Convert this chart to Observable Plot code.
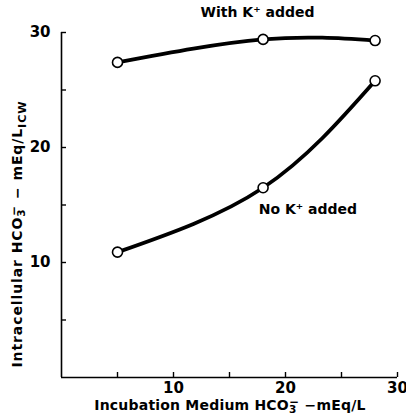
<!DOCTYPE html>
<html><head><meta charset="utf-8">
<script src="https://cdn.jsdelivr.net/npm/d3@7"></script>
<script src="https://cdn.jsdelivr.net/npm/@observablehq/plot@0.6"></script>
<style>
body{margin:0;background:#fff;}
svg{font-family:"DejaVu Sans",sans-serif;}
</style></head>
<body><div id="chart"></div>
<script>
const medium = [5, 18, 28];
const withK = [27.4, 29.4, 29.3];
const noK = [10.9, 16.5, 25.8];
const ticks = [5, 10, 15, 20, 25, 30];
const tickLabels = [10, 20, 30];
const seriesLabels = [
  {x: 17.5, y: 31.7, text: "With K⁺ added"},
  {x: 22, y: 14.6, text: "No K⁺ added"}
];

const withData = medium.map((x, i) => ({x, y: withK[i]}));
const noData = medium.map((x, i) => ({x, y: noK[i]}));

const chart = Plot.plot({
  width: 406, height: 415,
  marginLeft: 61, marginRight: 9, marginTop: 32, marginBottom: 38,
  x: {domain: [0, 30]},
  y: {domain: [0, 30]},
  style: {fontFamily: "DejaVu Sans, sans-serif", background: "#fff", color: "#000"},
  marks: [
    Plot.ruleX([0], {y1: 0, y2: 30, strokeWidth: 1.6}),
    Plot.ruleY([0], {x1: 0, x2: 30, strokeWidth: 1.6}),
    Plot.axisY({ticks, tickSize: -5, tickFormat: () => "", label: null, strokeWidth: 1.4}),
    Plot.axisY({ticks: tickLabels, tickSize: 0, tickPadding: 11, label: null, fontSize: 15, fontWeight: "bold"}),
    Plot.axisX({ticks, tickSize: -5, tickFormat: () => "", label: null, strokeWidth: 1.4}),
    Plot.axisX({ticks: tickLabels, tickSize: 0, tickPadding: 5, label: null, fontSize: 15, fontWeight: "bold"}),
    Plot.line(withData, {x: "x", y: "y", curve: "natural", strokeWidth: 3.8}),
    Plot.line(noData, {x: "x", y: "y", curve: "natural", strokeWidth: 3.8}),
    Plot.dot(withData, {x: "x", y: "y", r: 5, fill: "white", stroke: "black", strokeWidth: 1.6}),
    Plot.dot(noData, {x: "x", y: "y", r: 5, fill: "white", stroke: "black", strokeWidth: 1.6}),
    Plot.text(seriesLabels, {x: "x", y: "y", text: "text", fontSize: 14, fontWeight: "bold"})
  ]
});
document.getElementById("chart").appendChild(chart);

const svg = d3.select(chart);
function hco(sel) {
  sel.append("tspan").text("HCO");
  sel.append("tspan").attr("dy", "0.3em").attr("font-size", "0.75em").text("3");
  sel.append("tspan").attr("dx", "-0.6em").attr("dy", "-0.6em").attr("font-size", "0.85em").text("−");
  sel.append("tspan").attr("dy", "0.3em").text(" ");
}
const xl = svg.append("text")
  .attr("x", 230).attr("y", 410)
  .attr("text-anchor", "middle")
  .attr("font-size", 14).attr("font-weight", "bold").attr("letter-spacing", "0.2");
xl.append("tspan").text("Incubation Medium ");
hco(xl);
xl.append("tspan").text("−mEq/L");

const yl = svg.append("text")
  .attr("transform", "translate(22,234) rotate(-90)")
  .attr("text-anchor", "middle")
  .attr("font-size", 14).attr("font-weight", "bold").attr("letter-spacing", "0.9");
yl.append("tspan").text("Intracellular ");
hco(yl);
yl.append("tspan").text("− mEq/L");
yl.append("tspan").attr("dy", "0.3em").attr("font-size", "0.8em").text("ICW");
</script>
</body></html>
